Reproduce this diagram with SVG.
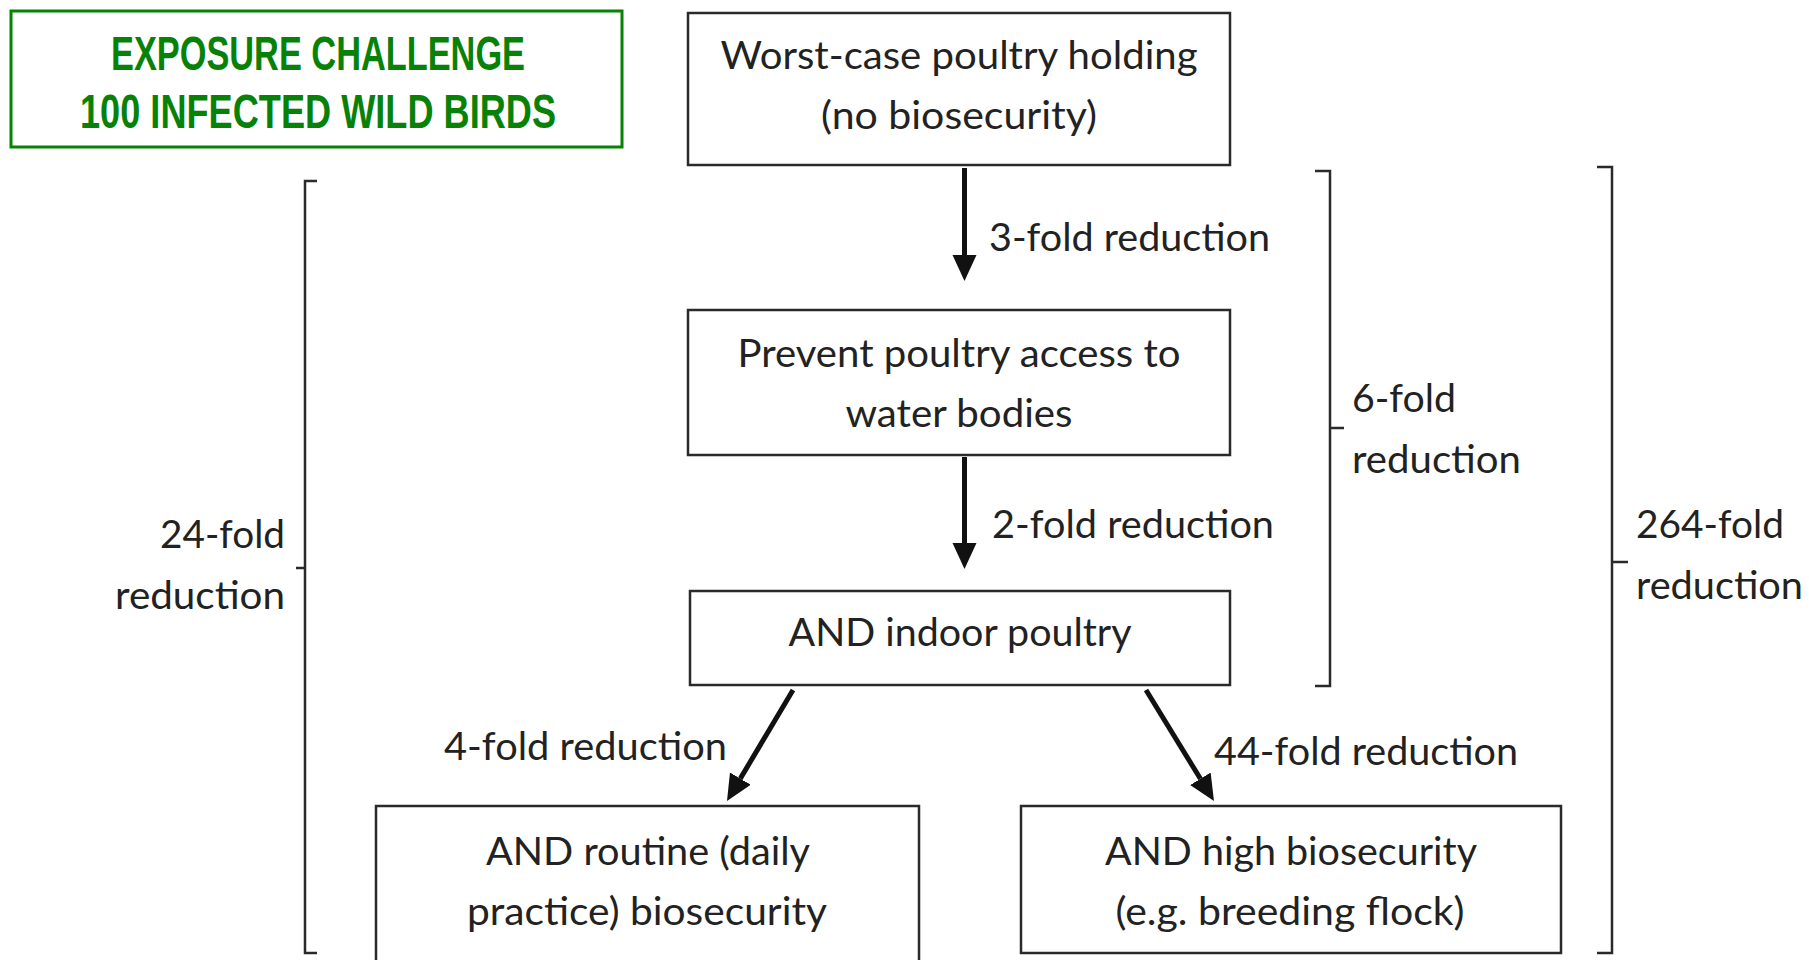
<svg xmlns="http://www.w3.org/2000/svg" width="1809" height="960" viewBox="0 0 1809 960">
<style>
.box{fill:#fff;stroke:#2a2a2a;stroke-width:2.5}
.t{font-family:Lato,"Open Sans","Liberation Sans",sans-serif;font-size:38px;fill:#222;text-anchor:middle}
.lbl{font-family:Lato,"Open Sans","Liberation Sans",sans-serif;font-size:38px;fill:#222}
.br{fill:none;stroke:#2a2a2a;stroke-width:2.5}
.title{font-family:"Liberation Sans Narrow","Liberation Sans",sans-serif;font-weight:bold;font-size:49px;fill:#078207;text-anchor:middle}
.arr{stroke:#111;stroke-width:5;fill:none;marker-end:url(#ah)}
</style>
<defs>
<marker id="ah" markerUnits="userSpaceOnUse" markerWidth="28" markerHeight="26" refX="0" refY="12" orient="auto">
<path d="M0,0 L26,12 L0,24 z" fill="#111"/>
</marker>
</defs>
<rect width="1809" height="960" fill="#fff"/>

<g id="title">
<rect x="11" y="11" width="611" height="136" fill="#fff" stroke="#078207" stroke-width="3"/>
<text class="title" x="318" y="70" textLength="414" lengthAdjust="spacingAndGlyphs">EXPOSURE CHALLENGE</text>
<text class="title" x="318" y="128" textLength="476" lengthAdjust="spacingAndGlyphs">100 INFECTED WILD BIRDS</text>
</g>

<g id="n1">
<rect class="box" x="688" y="13" width="542" height="152"/>
<text class="t" x="959" y="69" textLength="477" lengthAdjust="spacingAndGlyphs">Worst-case poultry holding</text>
<text class="t" x="959" y="129" textLength="276" lengthAdjust="spacingAndGlyphs">(no biosecurity)</text>
</g>

<g id="n2">
<rect class="box" x="688" y="310" width="542" height="145"/>
<text class="t" x="959" y="367" textLength="443" lengthAdjust="spacingAndGlyphs">Prevent poultry access to</text>
<text class="t" x="959" y="427" textLength="227" lengthAdjust="spacingAndGlyphs">water bodies</text>
</g>

<g id="n3">
<rect class="box" x="690" y="591" width="540" height="94"/>
<text class="t" x="960" y="646" textLength="343" lengthAdjust="spacingAndGlyphs">AND indoor poultry</text>
</g>

<g id="n4">
<rect class="box" x="376" y="806" width="543" height="170"/>
<text class="t" x="648" y="865" textLength="324" lengthAdjust="spacingAndGlyphs">AND routine (daily</text>
<text class="t" x="647" y="925" textLength="360" lengthAdjust="spacingAndGlyphs">practice) biosecurity</text>
</g>

<g id="n5">
<rect class="box" x="1021" y="806" width="540" height="147"/>
<text class="t" x="1291" y="865" textLength="372" lengthAdjust="spacingAndGlyphs">AND high biosecurity</text>
<text class="t" x="1290" y="925" textLength="349" lengthAdjust="spacingAndGlyphs">(e.g. breeding flock)</text>
</g>

<g id="connectors">
<line class="arr" x1="964.5" y1="168" x2="964.5" y2="255"/>
<line class="arr" x1="964.5" y1="457" x2="964.5" y2="543"/>
<line class="arr" x1="793" y1="690" x2="740.3" y2="778.6"/>
<line class="arr" x1="1146" y1="690" x2="1200.4" y2="778.8"/>
<text class="lbl" x="989" y="251" textLength="281" lengthAdjust="spacingAndGlyphs">3-fold reduction</text>
<text class="lbl" x="992" y="538" textLength="282" lengthAdjust="spacingAndGlyphs">2-fold reduction</text>
<text class="lbl" x="444" y="760" textLength="283" lengthAdjust="spacingAndGlyphs">4-fold reduction</text>
<text class="lbl" x="1214" y="765" textLength="304" lengthAdjust="spacingAndGlyphs">44-fold reduction</text>
</g>

<g id="bracket-24">
<path class="br" d="M317,181 H305 V953 H317 M305,568 H296"/>
<text class="lbl" x="285" y="548" text-anchor="end" textLength="125" lengthAdjust="spacingAndGlyphs">24-fold</text>
<text class="lbl" x="285" y="609" text-anchor="end" textLength="170" lengthAdjust="spacingAndGlyphs">reduction</text>
</g>

<g id="bracket-6">
<path class="br" d="M1315,171 H1330 V686 H1315 M1330,428 H1344"/>
<text class="lbl" x="1352" y="412" textLength="104" lengthAdjust="spacingAndGlyphs">6-fold</text>
<text class="lbl" x="1352" y="473" textLength="169" lengthAdjust="spacingAndGlyphs">reduction</text>
</g>

<g id="bracket-264">
<path class="br" d="M1597,167 H1612 V953 H1597 M1612,562 H1628"/>
<text class="lbl" x="1636" y="538" textLength="148" lengthAdjust="spacingAndGlyphs">264-fold</text>
<text class="lbl" x="1636" y="599" textLength="167" lengthAdjust="spacingAndGlyphs">reduction</text>
</g>
</svg>
